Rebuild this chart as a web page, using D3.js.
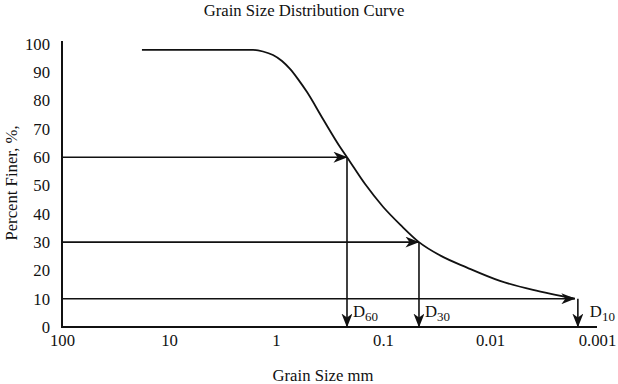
<!DOCTYPE html>
<html>
<head>
<meta charset="utf-8">
<script src="https://cdn.jsdelivr.net/npm/d3@7/dist/d3.min.js"></script>
<style>
  html, body { margin: 0; padding: 0; background: #fff; }
  svg text { font-family: "Liberation Serif", "DejaVu Serif", serif; fill: #111; }
</style>
</head>
<body>
<svg id="chart" width="618" height="384"></svg>
<script>
// grain size (mm) and percent finer
const grainSizes = [17.9, 1.64, 1.323, 1.067, 0.879, 0.74, 0.623, 0.513, 0.364, 0.252, 0.217,
  0.147, 0.1, 0.0679, 0.0461, 0.0293, 0.0164, 0.00807, 0.00396, 0.00237, 0.00161];
const percentFiner = [97.9, 97.9, 97.35, 96.1, 94.0, 91.2, 87.6, 83.0, 73.5, 63.6, 60,
  50.5, 42.5, 35.9, 30, 25.3, 21.0, 16.3, 13.1, 11.3, 10];

// D60, D30, D10
const refPercents = [60, 30, 10];
const refSizes = [0.217, 0.0461, 0.00161];
const refSubs = ["60", "30", "10"];

const xTicks = [100, 10, 1, 0.1, 0.01, 0.001];
const yTicks = [0, 10, 20, 30, 40, 50, 60, 70, 80, 90, 100];

const svg = d3.select('#chart');
const fontSize = 16.7;

const x = d3.scaleLog().domain([100, 0.001]).range([62, 597]);
const y = d3.scaleLinear().domain([0, 100]).range([327, 44]);

// arrow head
svg.append('defs').append('marker')
  .attr('id', 'arrow')
  .attr('markerUnits', 'userSpaceOnUse')
  .attr('viewBox', '0 0 14 11')
  .attr('markerWidth', 14)
  .attr('markerHeight', 11)
  .attr('refX', 13.5)
  .attr('refY', 5.5)
  .attr('orient', 'auto')
  .append('path')
  .attr('d', 'M0,0 L14,5.5 L0,11 L4,5.5 Z')
  .attr('fill', '#111');

// title
svg.append('text')
  .attr('x', 304)
  .attr('y', 16)
  .attr('text-anchor', 'middle')
  .style('font-size', fontSize + 'px')
  .text('Grain Size Distribution Curve');

// axes
const xAxis = svg.append('g')
  .attr('transform', `translate(0,${y(0)})`)
  .call(d3.axisBottom(x).tickValues(xTicks).tickSize(0).tickPadding(7).tickFormat(d => String(d)));
xAxis.select('.domain').remove();
xAxis.selectAll('text').style('font-size', fontSize + 'px');

const yAxis = svg.append('g')
  .attr('transform', `translate(${x(100)},0)`)
  .call(d3.axisLeft(y).tickValues(yTicks).tickSize(0).tickPadding(12));
yAxis.select('.domain').remove();
yAxis.selectAll('text').style('font-size', fontSize + 'px');

svg.append('line')
  .attr('x1', x(100)).attr('x2', x(100))
  .attr('y1', y(0) + 1).attr('y2', 41)
  .attr('stroke', '#111').attr('stroke-width', 2);
svg.append('line')
  .attr('x1', x(100) - 1).attr('x2', x(0.001))
  .attr('y1', y(0)).attr('y2', y(0))
  .attr('stroke', '#111').attr('stroke-width', 2);

// axis labels
svg.append('text')
  .attr('x', 323)
  .attr('y', 381)
  .attr('text-anchor', 'middle')
  .style('font-size', fontSize + 'px')
  .text('Grain Size mm');

svg.append('text')
  .attr('transform', 'translate(17,183) rotate(-90)')
  .attr('text-anchor', 'middle')
  .style('font-size', fontSize + 'px')
  .text('Percent Finer, %,');

// reference arrows
refPercents.forEach((p, i) => {
  const px = x(refSizes[i]);
  svg.append('line')
    .attr('x1', x(100)).attr('x2', px)
    .attr('y1', y(p)).attr('y2', y(p))
    .attr('stroke', '#111').attr('stroke-width', 1.6)
    .attr('marker-end', 'url(#arrow)');
  const vx = i === 2 ? px + 3 : px;
  svg.append('line')
    .attr('x1', vx).attr('x2', vx)
    .attr('y1', y(p)).attr('y2', y(0))
    .attr('stroke', '#111').attr('stroke-width', 1.6)
    .attr('marker-end', 'url(#arrow)');
  const lbl = svg.append('text')
    .attr('x', vx + (i === 2 ? 12 : 6))
    .attr('y', y(0) - 10)
    .style('font-size', fontSize + 'px');
  lbl.append('tspan').text('D');
  lbl.append('tspan').style('font-size', '13px').attr('dy', 4).text(refSubs[i]);
});

// grading curve
const line = d3.line()
  .x((d, i) => x(grainSizes[i]))
  .y(d => y(d))
  .curve(d3.curveMonotoneX);

svg.append('path')
  .datum(percentFiner)
  .attr('d', line)
  .attr('fill', 'none')
  .attr('stroke', '#111')
  .attr('stroke-width', 1.8);
</script>
</body>
</html>
